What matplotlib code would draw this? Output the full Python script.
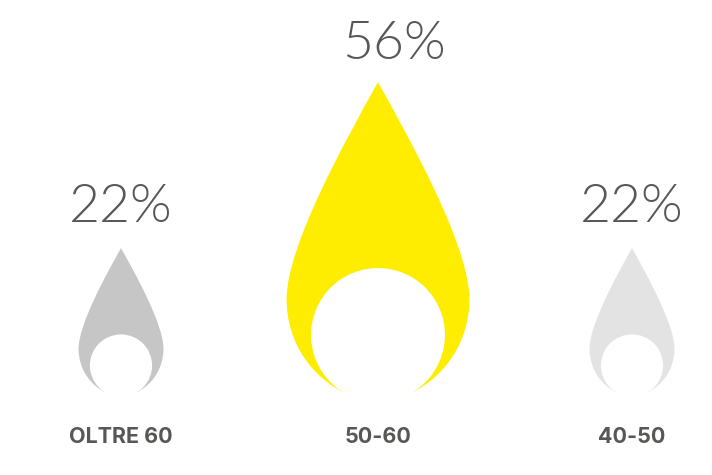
import matplotlib.pyplot as plt
from matplotlib.patches import PathPatch, Circle, Rectangle
from matplotlib.path import Path

labels = ['OLTRE 60', '50-60', '40-50']
shares = [22, 56, 22]
colors = ['#c6c6c6', '#ffed00', '#e3e3e3']
centers = [121, 378, 632]
# the percent labels don't sit quite the same over each drop
pct_dx = [0, 16, 0]
pct_gap = [26, 23, 26]

BASE_Y = 392   # where the drops are cut off
TEXT = '#575756'


def drop_height(share):
    # linear scale fitted on the two sizes in the picture
    return 36.6 + 4.88 * share


def draw_drop(ax, cx, share, color):
    h = drop_height(share)
    # right half of the outline, in fractions of the height (0 = base, 1 = tip)
    half = [(0.113, 0.0), (0.204, 0.045), (0.295, 0.15), (0.295, 0.30),
            (0.295, 0.47), (0.106, 0.81), (0.0, 1.0)]
    right = [(cx + x * h, BASE_Y - y * h) for x, y in half]
    left = [(cx - x * h, BASE_Y - y * h) for x, y in half[::-1]]
    verts = right + left[1:] + [right[0]]
    codes = [Path.MOVETO] + [Path.CURVE4] * 12 + [Path.CLOSEPOLY]
    ax.add_patch(PathPatch(Path(verts, codes), facecolor=color, edgecolor='none'))

    # white circle cut out of the bottom
    r = 0.216 * h
    hole = Circle((cx, BASE_Y - 0.184 * h), r, facecolor='white', edgecolor='none')
    ax.add_patch(hole)
    # keep the circle from going under the base
    clip = Rectangle((0, 0), 712, BASE_Y, transform=ax.transData)
    hole.set_clip_path(clip)
    return BASE_Y - h


fig = plt.figure(figsize=(7.12, 4.75), dpi=100)
ax = fig.add_axes([0, 0, 1, 1])
ax.set_xlim(0, 712)
ax.set_ylim(475, 0)
ax.axis('off')

for i, label in enumerate(labels):
    tip = draw_drop(ax, centers[i], shares[i], colors[i])
    ax.text(centers[i] + pct_dx[i], tip - pct_gap[i], f'{shares[i]}%', ha='center', va='baseline',
            fontsize=38.5, fontfamily='Lato', fontweight=300, color=TEXT)
    ax.text(centers[i], 443, label, ha='center', va='baseline', fontsize=15.5,
            fontfamily='Inter', fontweight='bold', color=TEXT)

fig.savefig('out.png', dpi=100)
